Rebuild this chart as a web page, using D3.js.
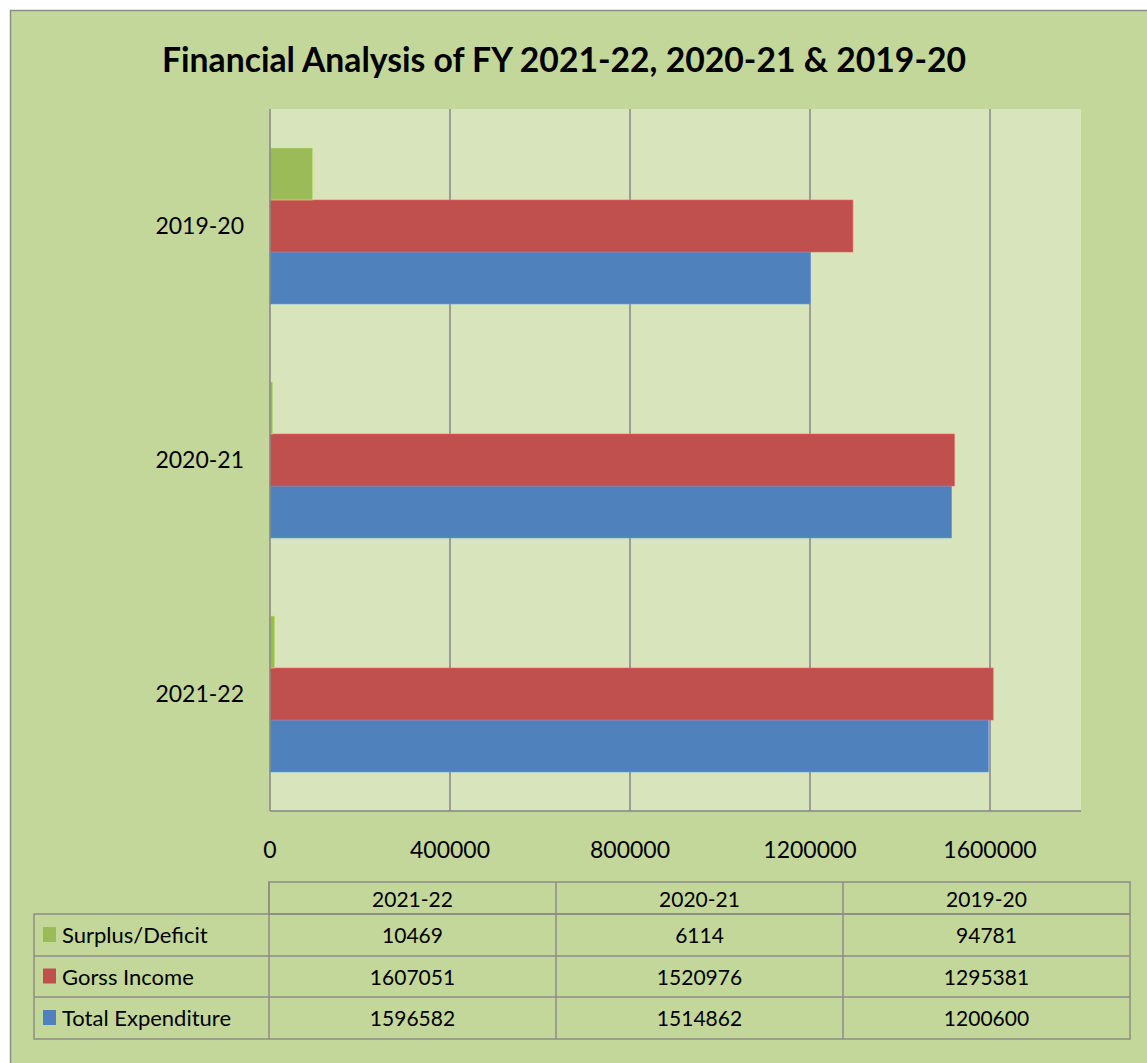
<!DOCTYPE html>
<html>
<head>
<meta charset="utf-8">
<script src="https://cdn.jsdelivr.net/npm/d3@7"></script>
<style>
  html, body { margin: 0; padding: 0; background: #ffffff; }
  svg { display: block; font-family: Lato, 'Open Sans', sans-serif; }
</style>
</head>
<body>
<svg id="chart" width="1147" height="1063"></svg>
<script>
// Chart data
const categories = ['2021-22', '2020-21', '2019-20'];
const seriesNames = ['Total Expenditure', 'Gorss Income', 'Surplus/Deficit'];
const totalExpenditure = [1596582, 1514862, 1200600];
const grossIncome = [1607051, 1520976, 1295381];
const surplusDeficit = [10469, 6114, 94781];
const xTicks = [0, 400000, 800000, 1200000, 1600000];
const title = 'Financial Analysis of FY 2021-22, 2020-21 & 2019-20';

const seriesValues = [totalExpenditure, grossIncome, surplusDeficit];
const seriesColors = ['#4f81bd', '#c0504d', '#9bbb59'];

const svg = d3.select('#chart');

// Outer chart area
svg.append('rect')
  .attr('x', 10.5).attr('y', 10.5)
  .attr('width', 1160).attr('height', 1070)
  .attr('fill', '#c4d79b')
  .attr('stroke', '#8c8c8c')
  .attr('stroke-width', 1.5);

svg.append('text')
  .attr('x', 564).attr('y', 72)
  .attr('text-anchor', 'middle')
  .style('font-size', '33.7px')
  .style('font-weight', 'bold')
  .attr('fill', '#000')
  .text(title);

// Plot area
const plot = { left: 270, right: 1081, top: 109, bottom: 811 };

const x = d3.scaleLinear()
  .domain([0, 1800000])
  .range([plot.left, plot.left + 810]);

// Excel puts the first category at the bottom
const y = d3.scaleBand()
  .domain(categories.slice().reverse())
  .range([plot.top, plot.bottom]);

// Within each band: first series at the bottom
const ySeries = d3.scaleBand()
  .domain(seriesNames.slice().reverse())
  .range([0, y.bandwidth()])
  .paddingInner(0)
  .paddingOuter(0.75);

svg.append('rect')
  .attr('x', plot.left).attr('y', plot.top)
  .attr('width', plot.right - plot.left)
  .attr('height', plot.bottom - plot.top)
  .attr('fill', '#d8e4bc');

// Gridlines
svg.append('g')
  .selectAll('line')
  .data(xTicks.slice(1))
  .join('line')
  .attr('x1', d => x(d)).attr('x2', d => x(d))
  .attr('y1', plot.top).attr('y2', plot.bottom)
  .attr('stroke', '#868686')
  .attr('stroke-width', 1.5);

// Bars
const rows = [];
seriesNames.forEach((s, si) => {
  categories.forEach((c, ci) => {
    rows.push({ series: s, category: c, value: seriesValues[si][ci], color: seriesColors[si] });
  });
});

svg.append('g')
  .selectAll('rect')
  .data(rows)
  .join('rect')
  .attr('x', x(0))
  .attr('y', d => y(d.category) + ySeries(d.series))
  .attr('width', d => x(d.value) - x(0))
  .attr('height', ySeries.bandwidth())
  .attr('fill', d => d.color)
  .attr('stroke', d => d3.color(d.color).brighter(0.6))
  .attr('stroke-width', 0.6);

// Axis lines
svg.append('line')
  .attr('x1', plot.left).attr('x2', plot.left)
  .attr('y1', plot.top).attr('y2', plot.bottom)
  .attr('stroke', '#868686').attr('stroke-width', 1.5);
svg.append('line')
  .attr('x1', plot.left).attr('x2', plot.right)
  .attr('y1', plot.bottom).attr('y2', plot.bottom)
  .attr('stroke', '#868686').attr('stroke-width', 1.5);

// Tick labels
svg.append('g')
  .selectAll('text')
  .data(xTicks)
  .join('text')
  .attr('x', d => x(d))
  .attr('y', 858)
  .attr('text-anchor', 'middle')
  .style('font-size', '23px')
  .attr('fill', '#000')
  .text(d => d);

// Category labels
svg.append('g')
  .selectAll('text')
  .data(categories)
  .join('text')
  .attr('x', 244)
  .attr('y', d => y(d) + y.bandwidth() / 2 + 8)
  .attr('text-anchor', 'end')
  .style('font-size', '23px')
  .attr('fill', '#000')
  .text(d => d);

// Data table
const colX = [269, 556, 843, 1130];
const legendLeft = 34;
const headerTop = 882, headerBottom = 914;
const rowEdges = [914, 956, 997, 1039];
const tableStroke = '#8c8c8c';
const table = svg.append('g');

// header row
table.append('rect')
  .attr('x', colX[0]).attr('y', headerTop)
  .attr('width', colX[3] - colX[0]).attr('height', headerBottom - headerTop)
  .attr('fill', 'none').attr('stroke', tableStroke).attr('stroke-width', 1.5);
// body
table.append('rect')
  .attr('x', legendLeft).attr('y', rowEdges[0])
  .attr('width', colX[3] - legendLeft).attr('height', rowEdges[3] - rowEdges[0])
  .attr('fill', 'none').attr('stroke', tableStroke).attr('stroke-width', 1.5);
rowEdges.slice(1, 3).forEach(yy => {
  table.append('line')
    .attr('x1', legendLeft).attr('x2', colX[3])
    .attr('y1', yy).attr('y2', yy)
    .attr('stroke', tableStroke).attr('stroke-width', 1.5);
});
colX.slice(0, 3).forEach(xx => {
  table.append('line')
    .attr('x1', xx).attr('x2', xx)
    .attr('y1', headerTop).attr('y2', rowEdges[3])
    .attr('stroke', tableStroke).attr('stroke-width', 1.5);
});

// header labels
table.selectAll('.hdr')
  .data(categories)
  .join('text')
  .attr('class', 'hdr')
  .attr('x', (d, i) => (colX[i] + colX[i + 1]) / 2)
  .attr('y', headerBottom - 7)
  .attr('text-anchor', 'middle')
  .style('font-size', '21px')
  .attr('fill', '#000')
  .text(d => d);

// rows, top-down is reverse series order
const tableRows = seriesNames.map((s, i) => ({ name: s, values: seriesValues[i], color: seriesColors[i] })).reverse();
tableRows.forEach((r, ri) => {
  const top = rowEdges[ri], bot = rowEdges[ri + 1];
  const mid = (top + bot) / 2;
  table.append('rect')
    .attr('x', 43).attr('y', mid - 8)
    .attr('width', 13).attr('height', 15)
    .attr('fill', r.color);
  table.append('text')
    .attr('x', 62).attr('y', mid + 8)
    .style('font-size', '22px')
    .attr('fill', '#000')
    .text(r.name);
  r.values.forEach((v, ci) => {
    table.append('text')
      .attr('x', (colX[ci] + colX[ci + 1]) / 2)
      .attr('y', mid + 8)
      .attr('text-anchor', 'middle')
      .style('font-size', '21px')
      .attr('fill', '#000')
      .text(v);
  });
});
</script>
</body>
</html>
